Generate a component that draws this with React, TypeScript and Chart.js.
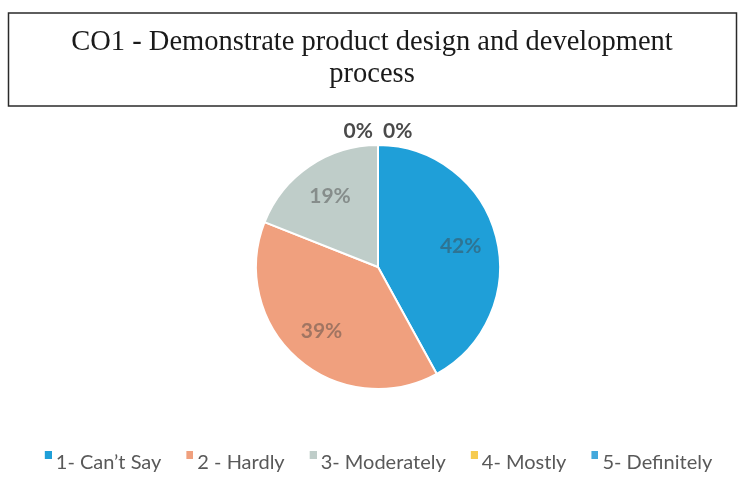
import React, { useEffect, useRef } from 'react';
import { Chart, registerables } from 'chart.js';

Chart.register(...registerables);

const titleLines = ['CO1 - Demonstrate product design and development', 'process'];
const categories = ['1- Can\u2019t Say', '2 - Hardly', '3- Moderately', '4- Mostly', '5- Definitely'];
const values = [42, 39, 19, 0, 0];
const sliceColors = ['#1f9fd8', '#f0a07e', '#bfcdc9', '#f6cb4f', '#43a8dc'];

const titleBoxPlugin = {
  id: 'titleBox',
  beforeDraw(chart: any) {
    const ctx = chart.ctx;
    ctx.save();
    ctx.fillStyle = '#ffffff';
    ctx.fillRect(0, 0, chart.width, chart.height);
    ctx.strokeStyle = '#2a2a2a';
    ctx.lineWidth = 1.5;
    ctx.strokeRect(8.5, 13, 728, 93);
    ctx.fillStyle = '#1a1a1a';
    ctx.font = '28.5px "Liberation Serif"';
    ctx.textAlign = 'center';
    ctx.textBaseline = 'alphabetic';
    ctx.fillText(titleLines[0], 372, 50);
    ctx.fillText(titleLines[1], 372, 82);
    ctx.restore();
  },
};

const sliceLabelPlugin = {
  id: 'sliceLabels',
  afterDatasetsDraw(chart: any) {
    const ctx = chart.ctx;
    const meta = chart.getDatasetMeta(0);
    const data = chart.data.datasets[0].data as number[];
    const total = data.reduce((a, b) => a + b, 0);
    let zeroIndex = 0;
    ctx.save();
    ctx.font = 'bold 21px Lato';
    ctx.textBaseline = 'middle';
    meta.data.forEach((arc: any, i: number) => {
      const { x, y, startAngle, endAngle, outerRadius } = arc.getProps(
        ['x', 'y', 'startAngle', 'endAngle', 'outerRadius'],
        true
      );
      const pct = Math.round((data[i] / total) * 100) + '%';
      const mid = (startAngle + endAngle) / 2;
      if (data[i] > 0) {
        const r = outerRadius * 0.7;
        ctx.fillStyle = 'rgba(64,64,64,0.45)';
        ctx.textAlign = 'center';
        ctx.fillText(pct, x + Math.cos(mid) * r, y + Math.sin(mid) * r);
      } else {
        const r = outerRadius + 13.5;
        const px = x + Math.cos(mid) * r;
        const py = y + Math.sin(mid) * r;
        ctx.fillStyle = '#4a4a4a';
        if (zeroIndex === 0) {
          ctx.textAlign = 'right';
          ctx.fillText(pct, px - 5, py);
        } else {
          ctx.textAlign = 'left';
          ctx.fillText(pct, px + 5, py);
        }
        zeroIndex++;
      }
    });
    ctx.restore();
  },
};

function makeMarker(color: string) {
  const c = document.createElement('canvas');
  c.width = 14;
  c.height = 24;
  const g = c.getContext('2d');
  if (g) {
    g.fillStyle = color;
    g.fillRect(7, 0, 7, 8);
  }
  return c;
}

export default function App() {
  const ref = useRef<HTMLCanvasElement | null>(null);
  useEffect(() => {
    if (!ref.current) return;
    const markers = sliceColors.map(makeMarker);
    const chart = new Chart(ref.current, {
      type: 'pie',
      data: {
        labels: categories,
        datasets: [
          {
            data: values,
            backgroundColor: sliceColors,
            borderColor: '#ffffff',
            borderWidth: 2,
            radius: 122,
          },
        ],
      },
      options: {
        responsive: false,
        animation: false,
        layout: { padding: { left: 12, right: 0, top: 105, bottom: 9 } },
        plugins: {
          title: { display: false },
          legend: {
            display: true,
            position: 'bottom',
            labels: {
              color: '#595959',
              font: { family: 'Lato', size: 20 },
              usePointStyle: true,
              boxWidth: 2,
              boxHeight: 8,
              padding: 24,
              generateLabels: (ch: any) =>
                ch.data.labels.map((t: string, i: number) => ({
                  text: t,
                  fillStyle: sliceColors[i],
                  strokeStyle: sliceColors[i],
                  lineWidth: 0,
                  hidden: false,
                  index: i,
                  pointStyle: markers[i],
                  fontColor: '#595959',
                })),
            },
          },
          tooltip: { enabled: false },
        },
      },
      plugins: [titleBoxPlugin, sliceLabelPlugin],
    });
    return () => chart.destroy();
  }, []);
  return (
    <div style={{ position: 'absolute', left: 0, top: 0, width: 744, height: 492, background: '#fff' }}>
      <canvas ref={ref} width={744} height={492} />
    </div>
  );
}
